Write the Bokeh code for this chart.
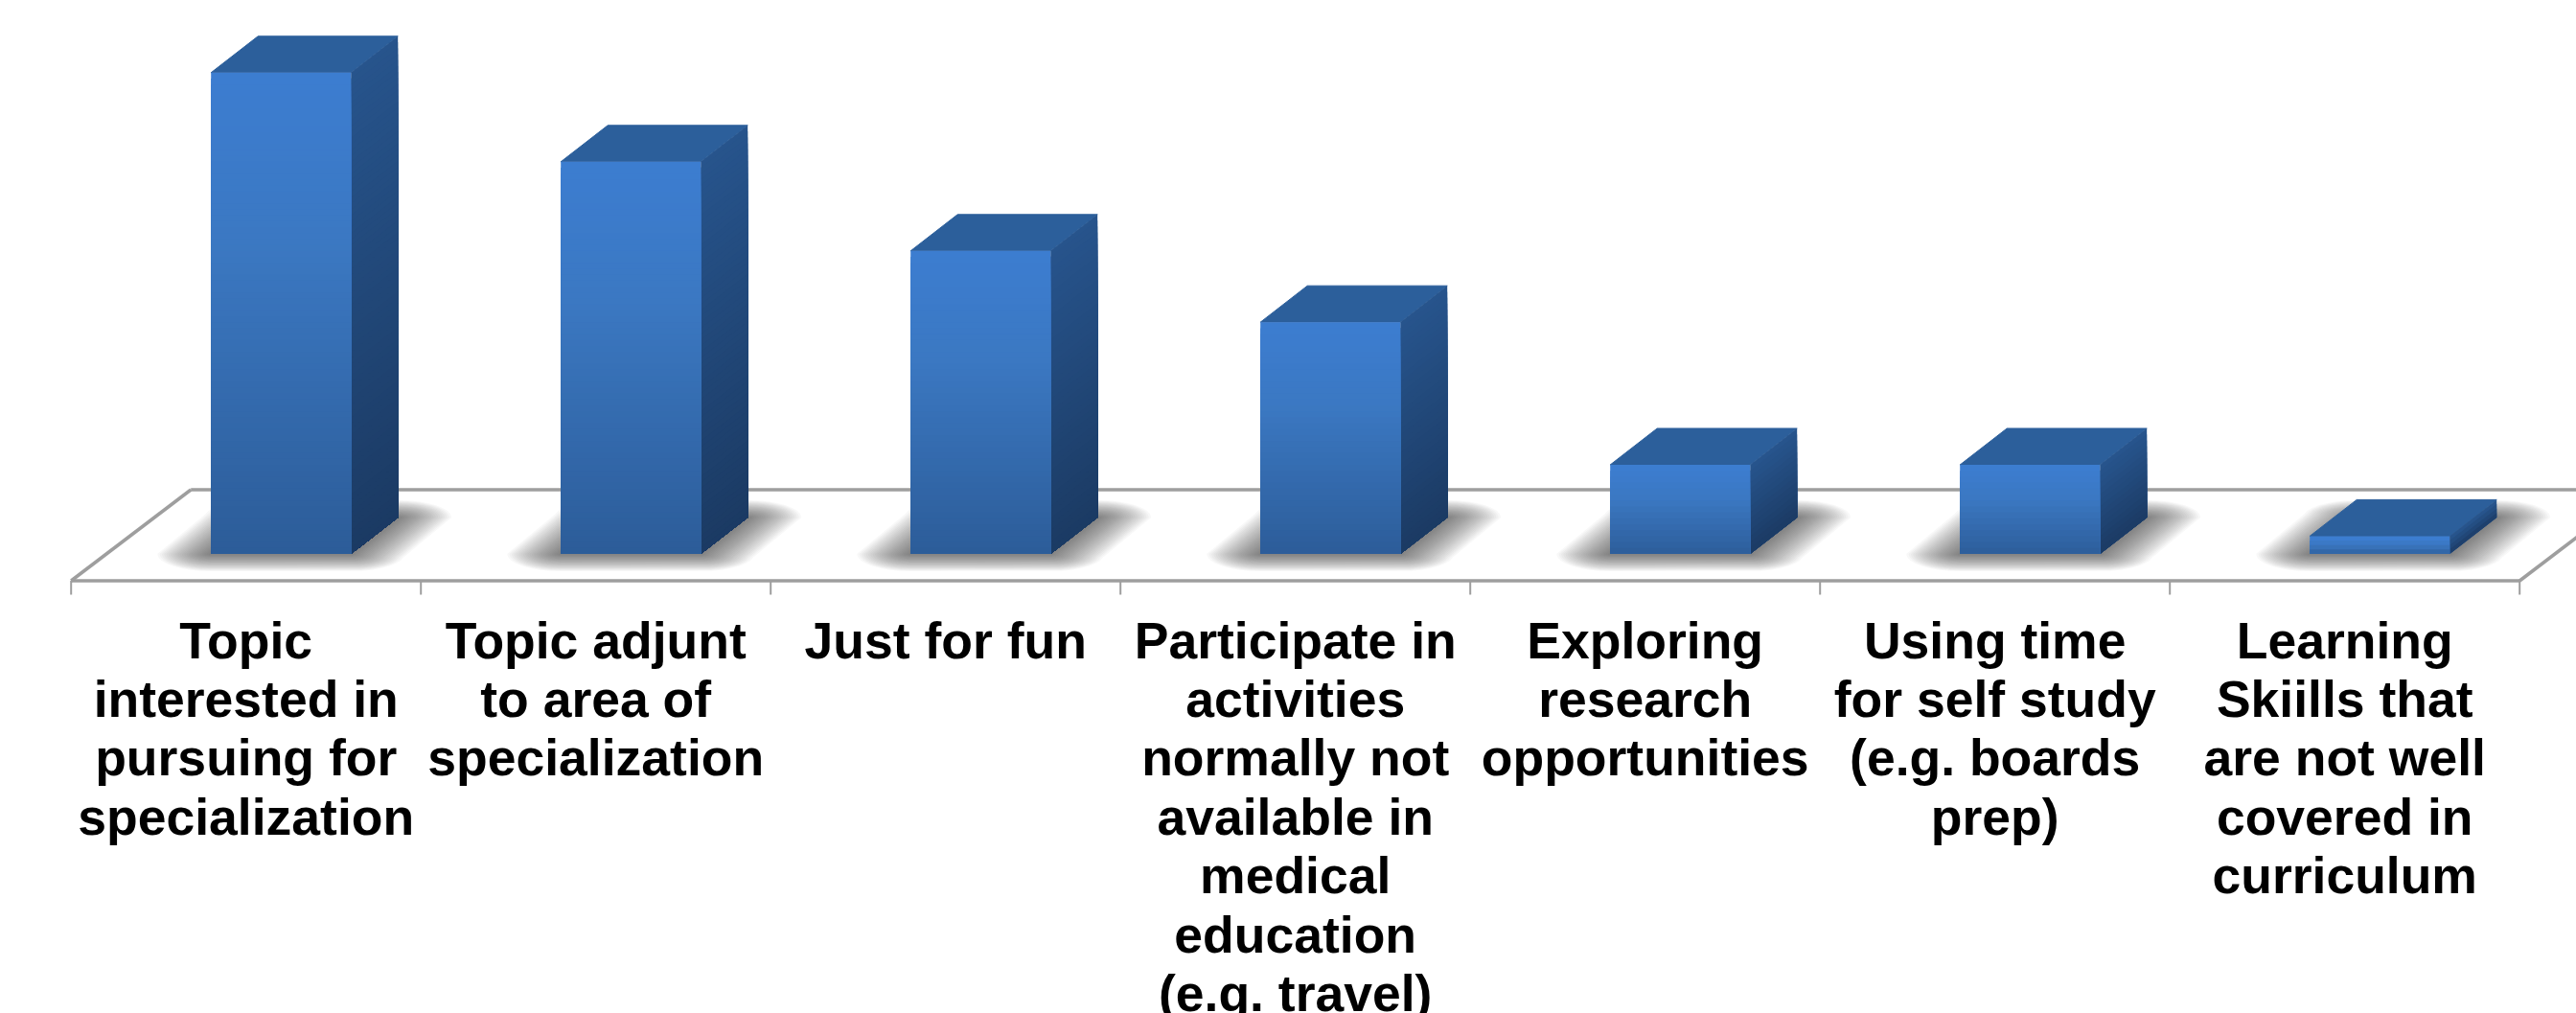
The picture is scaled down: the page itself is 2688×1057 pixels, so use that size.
import math
from bokeh.plotting import figure
from bokeh.embed import file_html
from bokeh.resources import INLINE
from bokeh.core.properties import value

categories = [
    ["Topic", "interested in", "pursuing for", "specialization"],
    ["Topic adjunt", "to area of", "specialization"],
    ["Just for fun"],
    ["Participate in", "activities", "normally not", "available in", "medical", "education", "(e.g. travel)"],
    ["Exploring", "research", "opportunities"],
    ["Using time", "for self study", "(e.g. boards", "prep)"],
    ["Learning", "Skiills that", "are not well", "covered in", "curriculum"],
]
values = [27, 22, 17, 13, 5, 5, 1]

W, H = 2688, 1057
PAGE = 0
SLOT_PX, UNIT_PX = 365.0, 18.6
X0_PX, BASE_PX = 73.7, 577.5

def X(px):
    return (px - X0_PX) / SLOT_PX

def Y(py):
    return (BASE_PX - py) / UNIT_PX

p = figure(width=W, height=H, output_backend="svg", toolbar_location=None,
           x_range=(X(PAGE), X(PAGE + W)), y_range=(Y(PAGE + H), Y(PAGE)),
           min_border=0, outline_line_color=None, background_fill_color="#ffffff",
           border_fill_color="#ffffff")
p.axis.visible = False
p.grid.visible = False

DX, DY = 49 / SLOT_PX, 38 / UNIT_PX
BAR_W = 0.4
N = len(values)

# Floor
FLOOR_F, FLOOR_B = Y(605.5), Y(510.5)
FDX = 125 / SLOT_PX
fl = dict(line_color="#9e9e9e", line_width=3.5)
p.line([0, N], [FLOOR_F, FLOOR_F], **fl)
p.line([FDX, N + FDX], [FLOOR_B, FLOOR_B], **fl)
p.line([0, FDX], [FLOOR_F, FLOOR_B], **fl)
p.line([N, N + FDX], [FLOOR_F, FLOOR_B], **fl)
TICK_B = Y(620)
p.segment(x0=list(range(N + 1)), y0=[FLOOR_F] * (N + 1), x1=list(range(N + 1)), y1=[TICK_B] * (N + 1),
          line_color="#9e9e9e", line_width=2)

def mix(c1, c2, t):
    a = [int(c1[i:i + 2], 16) for i in (1, 3, 5)]
    b = [int(c2[i:i + 2], 16) for i in (1, 3, 5)]
    return "#%02x%02x%02x" % tuple(round(u + (w - u) * t) for u, w in zip(a, b))

def front_col(t):
    # t = 0 at the top of the bar, 1 at its foot
    return mix("#3c7dd0", "#3b78c2", t / 0.35) if t < 0.35 else mix("#3b78c2", "#2c5c98", (t - 0.35) / 0.65)

def side_col(t):
    return mix("#27548c", "#1b3a63", t)

def rounded(corners, rx, ry, steps=32):
    """Outline of a polygon grown by an ellipse of radii rx, ry."""
    xs, ys = [], []
    for s in range(steps):
        a = 2 * math.pi * s / steps
        ca, sa = math.cos(a), math.sin(a)
        cx, cy = max(corners, key=lambda c: c[0] * ca * rx + c[1] * sa * ry)
        xs.append(cx + rx * ca)
        ys.append(cy + ry * sa)
    return xs, ys

LAYERS = 24
for i, v in enumerate(values):
    L = i + BAR_W
    R = L + BAR_W
    # Blurred floor shadow
    foot = [(L, 0), (R, 0), (R + DX, DY), (L + DX, DY)]
    for k in range(LAYERS, 0, -1):
        f = k / LAYERS
        sx, sy = rounded(foot, 56 * f / SLOT_PX, 18 * f / UNIT_PX)
        p.patch(sx, sy, fill_color="#303030", fill_alpha=0.034, line_color=None)
    # Faces, painted from top down so the bands leave no seams
    bands = max(4, int(v * 3))
    p.patch([L, R, R + DX, L + DX], [v, v, v + DY, v + DY],
            fill_color="#2c5f9b", line_color="#2c5f9b", line_width=1)
    for b in range(bands):
        t = b / bands
        top = v * (1 - t)
        p.patch([R, R + DX, R + DX, R], [top, top + DY, DY, 0],
                fill_color=side_col(t), line_color=None)
    for b in range(bands):
        t = b / bands
        top = v * (1 - t)
        p.quad(left=L, right=R, bottom=0, top=top, fill_color=front_col(t), line_color=None)

# Category labels
LINE_Y0, LINE_STEP = Y(667.5), 61.4 / UNIT_PX
xs, ys, ts = [], [], []
for i, lines in enumerate(categories):
    for j, s in enumerate(lines):
        xs.append(i + 0.5)
        ys.append(LINE_Y0 - j * LINE_STEP)
        ts.append(s)
p.text(x=xs, y=ys, text=ts, text_font=value("Liberation Sans"), text_font_style="bold",
       text_font_size="53.5px", text_color="#000000", text_align="center", text_baseline="middle")

open("out.html", "w").write(file_html(p, INLINE))
